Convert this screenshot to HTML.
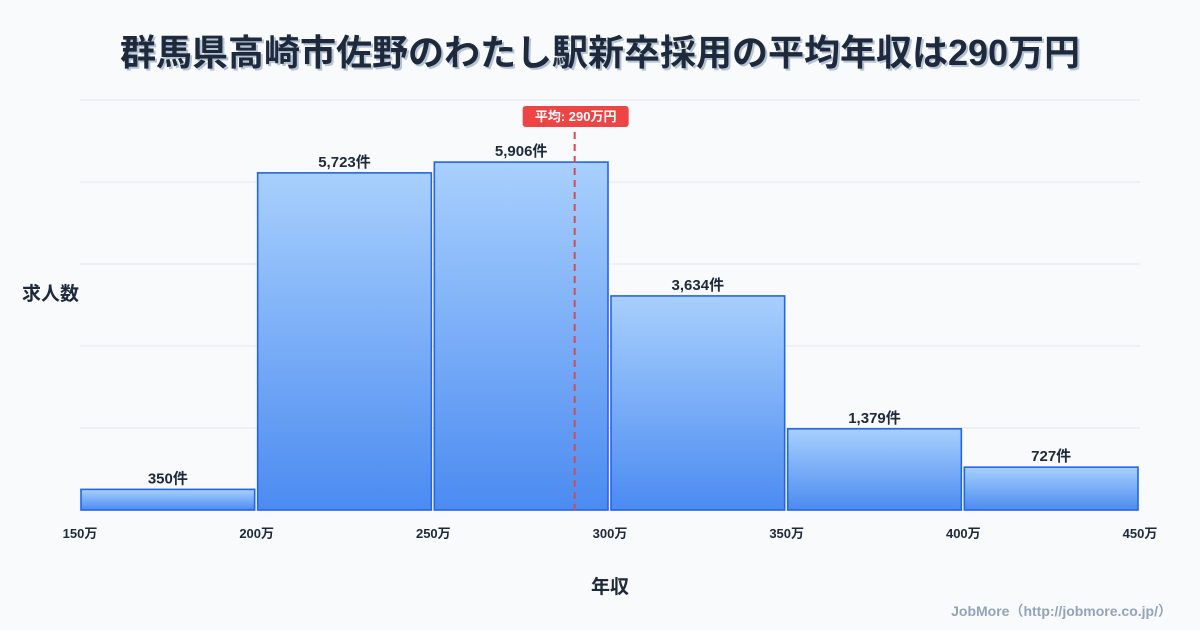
<!DOCTYPE html>
<html><head><meta charset="utf-8"><style>
html,body{margin:0;padding:0;background:#f8fafc;}
svg{display:block;font-family:"Liberation Sans","Noto Sans CJK JP",sans-serif;}
</style></head><body>
<svg id="chart" width="1200" height="630" viewBox="0 0 1200 630">
<defs><linearGradient id="bg" x1="0" y1="0" x2="0" y2="1"><stop offset="0" stop-color="#a8d0fd"/><stop offset="1" stop-color="#4b8bf1"/></linearGradient></defs>
<rect width="1200" height="630" fill="#f8fafc"/>
<text x="602" y="67" text-anchor="middle" font-size="36" font-weight="bold" fill="#b4c3d6">群馬県高崎市佐野のわたし駅新卒採用の平均年収は290万円</text>
<text x="600" y="65" text-anchor="middle" font-size="36" font-weight="bold" fill="#1e293b">群馬県高崎市佐野のわたし駅新卒採用の平均年収は290万円</text>
<g id="grid"></g><g id="bars"></g><g id="xt"></g>
<text x="22" y="300" font-size="19" font-weight="bold" fill="#1e293b">求人数</text>
<text x="610" y="593" text-anchor="middle" font-size="19" font-weight="bold" fill="#1e293b">年収</text>
<text x="1172" y="616" text-anchor="end" font-size="14" font-weight="bold" fill="#94a3b8">JobMore（http://jobmore.co.jp/）</text>
</svg>
<script>
const binStarts=[150,200,250,300,350,400];
const counts=[350,5723,5906,3634,1379,727];
const countLabels=["350件","5,723件","5,906件","3,634件","1,379件","727件"];
const xTicks=[150,200,250,300,350,400,450];
const yGrid=[0,1392,2784,4176,5568,6960];
const meanValue=290;
const NS="http://www.w3.org/2000/svg";
const X0=80,X1=1140,Y0=510,Y1=100,xmin=150,xmax=450,ymax=6960;
const sx=v=>X0+(v-xmin)/(xmax-xmin)*(X1-X0);
const sy=v=>Y0-v/ymax*(Y0-Y1);
function mk(t,a,p){const e=document.createElementNS(NS,t);for(const k in a)e.setAttribute(k,a[k]);p.appendChild(e);return e;}
const g=document.getElementById('grid');
yGrid.forEach(v=>{const l=mk('line',{x1:X0,x2:X1,y1:sy(v),y2:sy(v),stroke:'#e2e8f0','stroke-width':1},g);

});
const b=document.getElementById('bars');
binStarts.forEach((s,i)=>{const x=sx(s)+1,w=sx(s+50)-sx(s)-3,y=sy(counts[i]);
const r=mk('rect',{x:x,y:y,width:w,height:Y0-y,fill:'url(#bg)',stroke:'#2563eb','stroke-width':1.6},b);


const t=mk('text',{x:x+w/2,y:y-6,'text-anchor':'middle','font-size':15,'font-weight':'bold',fill:'#1e293b'},b);t.textContent=countLabels[i];

});
const xt=document.getElementById('xt');
xTicks.forEach(v=>{const t=mk('text',{x:sx(v),y:538,'text-anchor':'middle','font-size':13,'font-weight':'bold',fill:'#1e293b'},xt);t.textContent=v+'万';

});
const mx=sx(meanValue);
const ml=mk('line',{x1:mx,x2:mx,y1:132,y2:Y0,stroke:'#e0474c','stroke-width':2,'stroke-dasharray':'7,5'},xt);


const mr=mk('rect',{x:mx-52,y:106,width:106,height:21,rx:3,fill:'#ef4444'},xt);


const mt=mk('text',{x:mx+1,y:121,'text-anchor':'middle','font-size':13,'font-weight':'bold',fill:'#fff'},xt);mt.textContent='平均: '+meanValue+'万円';


</script>
</body></html>
